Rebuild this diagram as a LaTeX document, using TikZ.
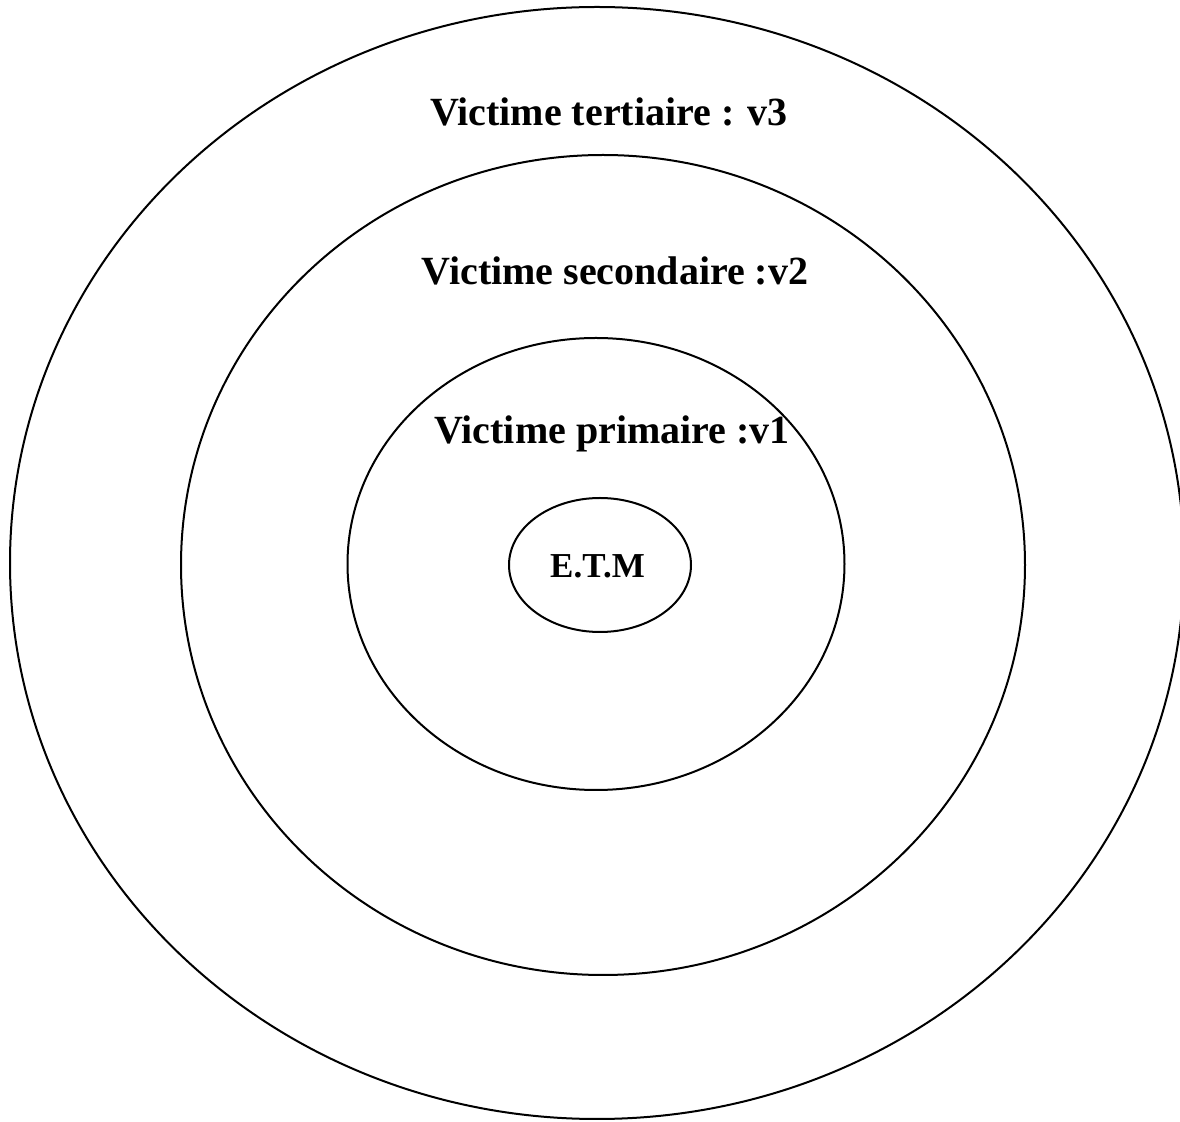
\documentclass[tikz,border=0pt]{standalone}
\usepackage{fontspec}
\setmainfont{Liberation Serif}
\usetikzlibrary{shapes.geometric}
\begin{document}
\begin{tikzpicture}[x=0.5pt,y=-0.5pt,
  ring/.style={draw=black,line width=1pt,ellipse,inner sep=0pt},
  lbl/.style={font=\fontsize{20}{24}\selectfont\bfseries,anchor=base,inner sep=0pt},
  core/.style={font=\fontsize{17.5}{21}\selectfont\bfseries,anchor=base,inner sep=0pt}]
\useasboundingbox (0,0) rectangle (1180,1122);
\clip (0,0) rectangle (1180,1122);
\node[ring,minimum width=587pt,minimum height=556pt] (r3) at (597,563) {};
\node[ring,minimum width=422pt,minimum height=410pt] (r2) at (603,565) {};
\node[ring,minimum width=248.5pt,minimum height=226pt] (r1) at (596,564) {};
\node[ring,minimum width=91pt,minimum height=67pt] (r0) at (600,565) {};
\node[lbl] (t3) at (609,126) {Victime tertiaire : v3};
\node[lbl] (t2) at (615,285) {Victime secondaire :v2};
\node[lbl] (t1) at (612,444) {Victime primaire :v1};
\node[core] (t0) at (597.5,578) {E.T.M};
\end{tikzpicture}
\end{document}
